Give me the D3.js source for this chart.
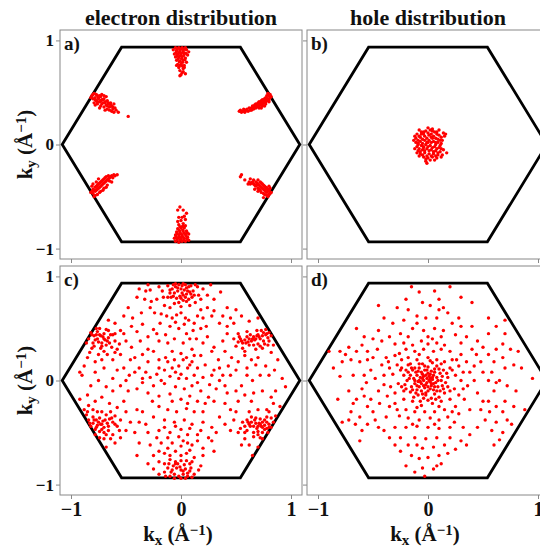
<!DOCTYPE html>
<html>
<head>
<meta charset="utf-8">
<script src="https://cdn.jsdelivr.net/npm/d3@7"></script>
<style>
  body { margin: 0; background: #fff; }
  text { font-family: "Liberation Serif", "Times New Roman", serif; font-weight: bold; fill: #111; }
</style>
</head>
<body>
<svg id="fig" width="540" height="547"></svg>
<script>
// Brillouin zone boundary (hexagon corners, 1/Angstrom)
const hexagon = [[1.08, 0], [0.54, 0.935], [-0.54, 0.935], [-1.08, 0], [-0.54, -0.935], [0.54, -0.935]];
const tickValues = [-1, 0, 1];
const titles = ["electron distribution", "hole distribution"];
const panelLabels = ["a)", "b)", "c)", "d)"];

// a) electrons, early time: pockets at the six M points
const electronA = [
  [-0.05,0.93],[-0.02,0.93],[0.01,0.93],[0.04,0.93],[-0.04,0.9],[-0.01,0.9],[0.02,0.9],[0.05,0.91],[-0.06,0.87],[-0.03,0.87],
  [0.0,0.87],[0.03,0.88],[0.06,0.86],[-0.05,0.84],[-0.02,0.84],[0.01,0.84],[0.04,0.83],[-0.04,0.81],[-0.01,0.8],[0.02,0.81],
  [0.05,0.79],[-0.03,0.77],[0.0,0.77],[0.03,0.76],[-0.02,0.74],[0.02,0.73],[-0.01,0.71],[0.01,0.69],[0.0,0.67],[0.07,0.89],[-0.07,0.91],
  [-0.035,0.915],[-0.005,0.915],[0.025,0.915],[-0.045,0.885],[-0.015,0.885],[0.015,0.885],[0.045,0.875],[-0.035,0.855],[-0.005,0.855],[0.025,0.855],
  [-0.025,0.825],[0.005,0.825],[0.035,0.815],[-0.015,0.795],[0.015,0.79],[0.01,0.755],[-0.01,0.76],[0.03,0.74],[-0.04,0.76],[0.02,0.7],[-0.01,0.66],[0.04,0.68],
  [-0.05,-0.93],[-0.02,-0.94],[0.01,-0.93],[0.04,-0.93],[0.07,-0.92],[-0.06,-0.9],[-0.03,-0.9],[0.0,-0.9],[0.03,-0.9],[0.06,-0.89],
  [-0.05,-0.87],[-0.02,-0.87],[0.01,-0.87],[0.04,-0.86],[0.07,-0.86],[-0.04,-0.84],[-0.01,-0.84],[0.02,-0.83],[0.05,-0.83],[-0.03,-0.81],
  [0.0,-0.8],[0.03,-0.8],[-0.02,-0.77],[0.02,-0.76],[0.0,-0.73],[0.04,-0.72],[-0.02,-0.7],[0.05,-0.66],[-0.03,-0.63],[0.03,-0.69],
  [-0.035,-0.915],[-0.005,-0.915],[0.025,-0.915],[0.055,-0.905],[-0.045,-0.885],[-0.015,-0.885],[0.015,-0.885],[0.045,-0.875],[-0.035,-0.855],[-0.005,-0.855],
  [0.025,-0.85],[0.055,-0.845],[-0.015,-0.825],[0.015,-0.82],[-0.01,-0.79],[0.015,-0.785],[0.04,-0.78],[-0.03,-0.74],[0.01,-0.7],[0.02,-0.63],[-0.01,-0.6],
  [-0.81,0.47],[-0.79,0.49],[-0.78,0.45],[-0.76,0.47],[-0.77,0.42],[-0.75,0.44],[-0.73,0.46],[-0.74,0.41],[-0.72,0.43],[-0.7,0.44],
  [-0.71,0.4],[-0.69,0.41],[-0.67,0.42],[-0.68,0.38],[-0.66,0.39],[-0.64,0.4],[-0.65,0.36],[-0.63,0.37],[-0.62,0.34],[-0.6,0.35],
  [-0.79,0.4],[-0.76,0.39],[-0.73,0.37],[-0.7,0.36],[-0.67,0.34],[-0.63,0.32],[-0.8,0.44],[-0.72,0.48],[-0.68,0.46],[-0.61,0.39],
  [-0.8,0.48],[-0.77,0.48],[-0.78,0.43],[-0.75,0.45],[-0.76,0.41],[-0.73,0.42],[-0.71,0.43],[-0.72,0.39],[-0.69,0.4],[-0.66,0.4],
  [-0.67,0.37],[-0.64,0.38],[-0.62,0.36],[-0.65,0.33],[-0.59,0.33],[-0.82,0.45],[-0.74,0.47],[-0.7,0.47],[-0.78,0.38],[-0.74,0.35],
  [-0.69,0.33],[-0.61,0.31],[-0.57,0.31],
  [-0.48,0.27],
  [0.82,0.46],[0.8,0.47],[0.79,0.44],[0.77,0.45],[0.78,0.42],[0.76,0.42],[0.74,0.43],[0.75,0.4],[0.73,0.4],[0.71,0.41],
  [0.72,0.38],[0.7,0.38],[0.68,0.39],[0.69,0.36],[0.67,0.36],[0.65,0.37],[0.66,0.34],[0.64,0.35],[0.62,0.35],[0.63,0.33],
  [0.61,0.32],[0.59,0.33],[0.57,0.34],[0.56,0.32],[0.58,0.31],[0.8,0.41],[0.77,0.39],[0.74,0.37],[0.71,0.35],[0.79,0.49],[0.54,0.33],
  [0.81,0.45],[0.8,0.43],[0.78,0.44],[0.76,0.44],[0.77,0.41],[0.75,0.42],[0.73,0.42],[0.74,0.39],[0.72,0.4],[0.7,0.4],
  [0.71,0.37],[0.69,0.38],[0.67,0.38],[0.68,0.35],[0.66,0.36],[0.64,0.33],[0.6,0.34],[0.58,0.32],[0.55,0.31],[0.53,0.32],
  [0.78,0.47],[0.81,0.48],[0.76,0.37],[0.73,0.35],
  [-0.82,-0.46],[-0.8,-0.47],[-0.8,-0.43],[-0.78,-0.45],[-0.78,-0.41],[-0.76,-0.43],[-0.76,-0.39],[-0.74,-0.41],[-0.74,-0.37],[-0.72,-0.39],
  [-0.72,-0.35],[-0.7,-0.37],[-0.7,-0.33],[-0.68,-0.35],[-0.66,-0.33],[-0.68,-0.31],[-0.64,-0.31],[-0.62,-0.32],[-0.65,-0.35],[-0.6,-0.3],
  [-0.79,-0.5],[-0.76,-0.48],[-0.73,-0.45],[-0.7,-0.42],[-0.67,-0.39],[-0.63,-0.36],[-0.81,-0.4],[-0.77,-0.36],[-0.58,-0.29],[-0.75,-0.33],
  [-0.81,-0.45],[-0.79,-0.44],[-0.77,-0.44],[-0.77,-0.4],[-0.75,-0.42],[-0.75,-0.38],[-0.73,-0.4],[-0.73,-0.36],[-0.71,-0.38],[-0.71,-0.34],
  [-0.69,-0.36],[-0.69,-0.32],[-0.67,-0.34],[-0.65,-0.32],[-0.63,-0.3],[-0.61,-0.29],[-0.78,-0.49],[-0.74,-0.46],[-0.71,-0.44],[-0.68,-0.41],
  [-0.8,-0.38],[-0.66,-0.3],
  [0.82,-0.46],[0.8,-0.48],[0.8,-0.44],[0.78,-0.46],[0.78,-0.42],[0.76,-0.44],[0.76,-0.4],[0.74,-0.42],[0.74,-0.38],[0.72,-0.4],
  [0.72,-0.36],[0.7,-0.38],[0.7,-0.42],[0.68,-0.4],[0.68,-0.36],[0.66,-0.38],[0.64,-0.37],[0.66,-0.34],[0.62,-0.36],[0.79,-0.5],
  [0.76,-0.48],[0.73,-0.46],[0.7,-0.45],[0.75,-0.51],[0.81,-0.42],[0.67,-0.43],[0.63,-0.33],[0.61,-0.38],[0.54,-0.31],[0.58,-0.34],
  [0.81,-0.47],[0.79,-0.45],[0.79,-0.43],[0.77,-0.45],[0.77,-0.41],[0.75,-0.43],[0.75,-0.39],[0.73,-0.41],[0.73,-0.37],[0.71,-0.39],
  [0.71,-0.43],[0.69,-0.39],[0.69,-0.37],[0.67,-0.39],[0.65,-0.36],[0.63,-0.38],[0.78,-0.49],[0.75,-0.47],[0.72,-0.44],[0.8,-0.4],
  [0.7,-0.34],[0.55,-0.29]
];

// b) holes, early time: compact blob at Gamma
const holeB = [
  [-0.1,0.1],[-0.06,0.12],[-0.02,0.13],[0.02,0.14],[0.06,0.12],[0.1,0.09],[-0.11,0.06],[-0.07,0.07],[-0.03,0.08],[0.01,0.09],
  [0.05,0.08],[0.09,0.05],[0.12,0.07],[-0.11,0.02],[-0.07,0.03],[-0.03,0.04],[0.01,0.04],[0.05,0.03],[0.09,0.02],[0.12,0.01],
  [-0.1,-0.02],[-0.06,-0.01],[-0.02,0.0],[0.02,-0.01],[0.06,-0.02],[0.1,-0.03],[-0.09,-0.06],[-0.05,-0.05],[-0.01,-0.04],[0.03,-0.05],
  [0.07,-0.06],[0.11,-0.07],[-0.07,-0.09],[-0.03,-0.08],[0.01,-0.09],[0.05,-0.09],[0.09,-0.1],[-0.04,-0.12],[0.0,-0.13],[0.04,-0.12],
  [0.08,-0.13],[-0.02,-0.16],[-0.08,-0.11],[0.15,0.08],[0.14,-0.05],[0.13,-0.1],[-0.12,-0.04],[-0.13,0.04],[0.0,0.16],[0.04,0.15],
  [-0.08,0.14],[0.16,0.1],[-0.01,-0.18],[0.12,-0.12],[-0.04,0.1],[0.03,0.1],[0.07,0.0],[-0.09,0.0],[0.0,0.02],[-0.04,-0.02],[0.04,0.06],
  [-0.08,0.08],[-0.04,0.12],[0.0,0.11],[0.04,0.13],[0.08,0.1],[-0.09,0.04],[-0.05,0.05],[-0.01,0.06],[0.03,0.07],[0.07,0.06],
  [0.11,0.04],[-0.09,0.01],[-0.05,0.01],[-0.01,0.02],[0.03,0.02],[0.07,0.02],[0.11,-0.01],[-0.08,-0.04],[-0.04,-0.03],[0.0,-0.02],
  [0.04,-0.03],[0.08,-0.04],[0.12,-0.04],[-0.07,-0.07],[-0.03,-0.06],[0.01,-0.06],[0.05,-0.07],[0.09,-0.08],[-0.05,-0.1],[-0.01,-0.11],
  [0.03,-0.11],[0.07,-0.11],[-0.02,-0.14],[0.02,-0.15],[0.06,-0.15],[-0.06,0.1],[0.08,0.12],[0.13,0.04],[-0.12,0.08],[0.17,-0.08],
  [-0.1,-0.08],[0.14,0.11],[0.1,0.14]
];

// c) electrons, later time: spread over the zone, still heavier near M
const electronC = [
  [-0.02,0.92],[0.01,0.91],[0.04,0.92],[-0.05,0.9],[0.07,0.9],[-0.08,0.88],[0.0,0.88],[0.03,0.87],[-0.03,0.86],[0.06,0.86],
  [-0.06,0.84],[0.01,0.84],[0.09,0.83],[-0.01,0.81],[0.04,0.8],[-0.04,0.79],[0.07,0.78],[-0.09,0.8],[0.02,0.77],[-0.02,0.75],
  [0.11,0.86],[-0.12,0.91],[0.13,0.92],[-0.1,0.84],[0.05,0.83],[0.0,0.79],[0.1,0.8],[-0.05,0.93],
  [-0.07,0.92],[0.02,0.93],[0.09,0.91],[-0.03,0.89],[0.05,0.89],[-0.1,0.87],[0.08,0.85],[-0.07,0.81],[0.02,0.82],[-0.12,0.8],
  [0.12,0.82],[0.05,0.76],[-0.06,0.74],[0.08,0.72],[-0.16,0.8],[0.16,0.82],[-0.1,0.7],[0.0,0.71],
  [-0.38,0.88],[-0.32,0.86],[-0.28,0.87],[-0.2,0.9],[-0.17,0.86],[0.15,0.9],[0.2,0.88],[0.24,0.82],[0.18,0.78],[0.13,0.75],
  [-0.28,0.7],[-0.22,0.78],[-0.27,0.76],[-0.15,0.72],[0.27,0.92],[-0.3,0.92],
  [-0.33,0.78],[-0.4,0.8],[0.3,0.78],[0.36,0.85],[-0.24,0.65],[0.24,0.7],[-0.18,0.64],[0.15,0.62],[-0.05,0.56],[0.03,0.54],
  [0.18,0.5],[-0.22,0.45],[0.08,0.4],[-0.12,0.36],[0.2,0.36],[-0.3,0.3],[0.28,0.28],[-0.48,0.7],[0.42,0.7],[-0.36,0.65],[0.38,0.62],
  [-0.13,0.62],[-0.08,0.6],[-0.04,0.63],[0.0,0.65],[0.04,0.6],[0.07,0.58],[0.12,0.55],[-0.19,0.55],[-0.1,0.52],[-0.02,0.5],
  [0.05,0.45],[-0.14,0.44],[0.11,0.48],[-0.06,0.4],[0.02,0.36],[0.14,0.4],[-0.2,0.38],[-0.25,0.49],[-0.3,0.42],[0.2,0.6],
  [0.28,0.62],[0.3,0.67],[0.18,0.68],[0.23,0.52],[-0.35,0.54],[-0.4,0.47],[-0.37,0.38],[-0.44,0.6],[-0.52,0.62],[-0.45,0.52],
  [0.35,0.55],[0.42,0.45],[0.38,0.38],[0.3,0.32],[0.24,0.42],[0.45,0.6],[0.5,0.68],[0.55,0.62],
  [-0.82,0.46],[-0.79,0.43],[-0.76,0.47],[-0.74,0.44],[-0.71,0.42],[-0.78,0.39],[-0.75,0.37],[-0.72,0.36],[-0.69,0.39],[-0.66,0.41],
  [-0.68,0.34],[-0.65,0.36],[-0.7,0.45],[-0.8,0.36],[-0.73,0.31],[-0.63,0.32],[-0.6,0.38],[-0.84,0.4],[-0.77,0.5],[-0.66,0.48],
  [-0.62,0.44],[-0.58,0.3],[-0.7,0.28],[-0.75,0.25],[-0.81,0.31],[-0.67,0.25],
  [-0.81,0.44],[-0.77,0.44],[-0.73,0.43],[-0.76,0.4],[-0.7,0.4],[-0.67,0.38],[-0.72,0.33],[-0.79,0.33],[-0.64,0.44],[-0.68,0.49],
  [-0.74,0.5],[-0.86,0.36],[-0.83,0.27],[-0.6,0.27],[-0.56,0.35],[-0.52,0.45],
  [-0.85,0.22],[-0.78,0.18],[-0.62,0.2],[-0.55,0.25],[-0.52,0.12],[-0.46,0.2],[-0.58,0.1],[-0.7,0.12],[-0.78,0.08],[-0.88,0.14],
  [-0.66,0.58],[-0.6,0.55],[-0.55,0.48],[-0.5,0.38],[-0.45,0.32],[-0.42,0.22],[-0.35,0.25],[-0.3,0.18],[-0.38,0.12],[-0.25,0.28],
  [-0.47,0.05],[-0.62,0.02],
  [-0.9,0.05],[-0.82,-0.05],[-0.75,0.0],[-0.55,-0.05],[-0.5,0.0],[-0.42,0.08],[-0.32,0.08],[-0.6,0.45],[-0.72,0.2],[-0.92,0.08],
  [0.8,0.46],[0.77,0.44],[0.79,0.41],[0.74,0.43],[0.72,0.4],[0.75,0.38],[0.7,0.44],[0.68,0.4],[0.66,0.42],[0.64,0.38],
  [0.62,0.4],[0.6,0.42],[0.58,0.39],[0.56,0.36],[0.54,0.4],[0.52,0.37],[0.7,0.35],[0.66,0.34],[0.73,0.48],[0.77,0.49],
  [0.82,0.43],[0.62,0.34],[0.5,0.33],[0.56,0.31],[0.68,0.3],[0.74,0.31],[0.79,0.34],[0.6,0.47],[0.52,0.45],
  [0.78,0.45],[0.75,0.46],[0.71,0.42],[0.69,0.43],[0.67,0.39],[0.65,0.4],[0.61,0.37],[0.59,0.36],[0.55,0.38],[0.53,0.42],
  [0.72,0.33],[0.76,0.35],[0.8,0.38],[0.84,0.34],[0.63,0.44],[0.69,0.48],[0.58,0.28],[0.48,0.4],
  [0.62,0.57],[0.7,0.6],[0.48,0.55],[0.42,0.52],[0.4,0.28],[0.46,0.22],[0.52,0.18],[0.58,0.24],[0.64,0.2],[0.7,0.22],
  [0.77,0.14],[0.85,0.1],[0.88,0.2],[0.82,0.27],[0.6,0.12],[0.5,0.1],[0.43,0.14],[0.34,0.2],[0.3,0.1],[0.38,0.05],
  [0.72,0.05],[0.92,0.02],[0.65,0.0],
  [0.8,0.05],[0.86,-0.1],[0.74,-0.1],[0.5,-0.1],[0.45,0.05],[0.6,0.05],[0.68,0.15],[0.82,-0.16],[0.35,0.12],[0.28,0.05],
  [-0.2,0.2],[-0.14,0.22],[-0.08,0.28],[0.0,0.26],[0.05,0.22],[0.1,0.3],[0.18,0.24],[0.22,0.15],[0.15,0.12],[0.08,0.15],
  [-0.02,0.14],[-0.08,0.12],[-0.15,0.1],[-0.22,0.06],[-0.28,0.03],[-0.1,0.04],[0.0,0.06],[0.05,0.02],[0.12,0.05],[0.2,0.03],
  [-0.35,-0.02],[-0.25,-0.05],[-0.15,-0.03],[-0.05,-0.06],[0.03,-0.08],[0.1,-0.05],[0.18,-0.1],[0.26,-0.04],[-0.4,-0.08],[-0.3,-0.12],
  [-0.2,-0.15],[-0.1,-0.13],[0.0,-0.18],[0.08,-0.15],[0.15,-0.2],[0.25,-0.16],[0.32,-0.08],[-0.12,0.18],[0.02,0.2],[-0.05,0.08],
  [0.1,0.18],[0.3,-0.2],[0.35,0.0],
  [-0.06,0.2],[0.06,0.12],[-0.18,0.0],[0.15,-0.02],[-0.08,-0.2],[0.06,-0.22],[0.22,-0.22],[-0.26,-0.2],[-0.35,0.02],[0.4,-0.05],
  [-0.02,0.02],[0.12,0.24],[-0.2,0.12],
  [-0.84,-0.38],[-0.8,-0.35],[-0.77,-0.38],[-0.74,-0.36],[-0.71,-0.39],[-0.8,-0.41],[-0.76,-0.43],[-0.73,-0.42],[-0.7,-0.45],[-0.67,-0.41],
  [-0.65,-0.37],[-0.62,-0.4],[-0.68,-0.33],[-0.64,-0.3],[-0.78,-0.47],[-0.74,-0.49],[-0.7,-0.5],[-0.82,-0.44],[-0.86,-0.33],[-0.6,-0.34],
  [-0.58,-0.44],[-0.66,-0.48],[-0.72,-0.3],[-0.76,-0.3],[-0.88,-0.28],[-0.84,-0.24],[-0.62,-0.52],[-0.7,-0.56],[-0.74,-0.55],[-0.55,-0.38],
  [-0.83,-0.41],[-0.79,-0.38],[-0.75,-0.4],[-0.72,-0.42],[-0.69,-0.38],[-0.66,-0.44],[-0.63,-0.36],[-0.77,-0.45],[-0.72,-0.47],[-0.68,-0.52],
  [-0.85,-0.3],[-0.8,-0.28],[-0.6,-0.42],[-0.56,-0.48],[-0.64,-0.56],[-0.78,-0.52],
  [-0.92,-0.18],[-0.85,-0.14],[-0.78,-0.2],[-0.72,-0.16],[-0.65,-0.22],[-0.58,-0.26],[-0.52,-0.2],[-0.5,-0.3],[-0.46,-0.4],[-0.5,-0.48],
  [-0.55,-0.55],[-0.6,-0.6],[-0.48,-0.1],[-0.62,-0.1],[-0.68,-0.06],[-0.4,-0.28],[-0.42,-0.5],[-0.38,-0.4],[-0.35,-0.3],[-0.68,-0.64],
  [0.82,-0.45],[0.8,-0.42],[0.78,-0.46],[0.76,-0.43],[0.74,-0.45],[0.72,-0.42],[0.7,-0.44],[0.68,-0.41],[0.66,-0.44],[0.64,-0.4],
  [0.62,-0.42],[0.6,-0.38],[0.76,-0.38],[0.72,-0.37],[0.68,-0.36],[0.79,-0.5],[0.74,-0.5],[0.7,-0.49],[0.66,-0.5],[0.84,-0.4],
  [0.58,-0.44],[0.56,-0.4],[0.64,-0.35],[0.78,-0.35],[0.82,-0.36],[0.6,-0.48],[0.72,-0.55],[0.74,-0.56],
  [0.8,-0.45],[0.76,-0.47],[0.73,-0.44],[0.71,-0.41],[0.69,-0.46],[0.67,-0.38],[0.63,-0.44],[0.61,-0.4],[0.78,-0.4],[0.74,-0.4],
  [0.7,-0.52],[0.66,-0.54],[0.58,-0.5],[0.54,-0.46],[0.86,-0.34],[0.8,-0.3],
  [0.9,-0.25],[0.84,-0.22],[0.78,-0.28],[0.7,-0.28],[0.64,-0.2],[0.58,-0.14],[0.52,-0.2],[0.5,-0.3],[0.45,-0.28],[0.4,-0.22],
  [0.42,-0.12],[0.55,-0.05],[0.48,-0.38],[0.45,-0.48],[0.52,-0.5],[0.58,-0.56],[0.55,-0.62],[0.62,-0.62],[0.4,-0.42],[0.35,-0.35],
  [0.66,-0.12],[0.62,-0.3],[0.95,-0.06],[0.7,-0.64],[0.65,-0.72],
  [-0.2,-0.25],[-0.12,-0.28],[-0.04,-0.3],[0.05,-0.27],[0.12,-0.3],[0.2,-0.3],[-0.25,-0.35],[-0.15,-0.38],[-0.06,-0.4],[0.03,-0.38],
  [0.1,-0.42],[0.2,-0.4],[0.28,-0.45],[-0.3,-0.5],[-0.2,-0.48],[-0.1,-0.5],[0.0,-0.47],[0.06,-0.52],[0.15,-0.52],[0.25,-0.55],
  [-0.28,-0.62],[-0.18,-0.6],[-0.08,-0.6],[0.02,-0.58],[0.1,-0.62],[0.2,-0.65],[-0.25,-0.72],[-0.15,-0.7],[-0.05,-0.68],[0.05,-0.7],
  [0.12,-0.74],[-0.3,-0.8],[-0.2,-0.78],[-0.1,-0.76],[0.0,-0.77],[0.08,-0.8],[0.18,-0.82],[-0.38,-0.6],[-0.4,-0.72],[0.3,-0.68],
  [-0.15,-0.45],[-0.05,-0.44],[0.08,-0.46],[0.18,-0.48],[-0.22,-0.55],[-0.12,-0.55],[-0.02,-0.54],[0.06,-0.6],[0.15,-0.58],[-0.12,-0.65],
  [0.0,-0.63],[0.08,-0.67],[-0.2,-0.68],[-0.1,-0.72],[0.0,-0.72],[0.1,-0.78],[-0.05,-0.8],[-0.15,-0.8],[0.2,-0.72],[0.28,-0.58],
  [-0.32,-0.42],[0.32,-0.5],
  [-0.08,-0.86],[-0.04,-0.84],[0.0,-0.86],[0.04,-0.85],[-0.06,-0.9],[-0.02,-0.92],[0.02,-0.9],[0.06,-0.92],[-0.1,-0.92],[-0.12,-0.84],
  [0.08,-0.87],[-0.03,-0.8],[0.03,-0.81],[-0.15,-0.88],[0.12,-0.9],[-0.2,-0.9],[0.16,-0.86],[-0.25,-0.85],[0.0,-0.94],[-0.07,-0.82],
  [-0.06,-0.94],[0.04,-0.94],[-0.09,-0.88],[0.02,-0.87],[0.09,-0.84],[-0.05,-0.78],[0.05,-0.77],[-0.14,-0.92],[0.1,-0.93],[-0.01,-0.83],
  [0.06,-0.89],[-0.11,-0.8]
];

// d) holes, later time: dense core at Gamma with a wide halo
const holeD = [
  [-0.04,0.0],[-0.01,0.02],[0.02,-0.01],[-0.07,0.03],[-0.06,-0.03],[-0.02,-0.04],[0.01,0.04],[0.04,0.01],[-0.09,-0.01],[-0.1,0.05],
  [-0.05,0.06],[0.0,0.07],[0.05,0.05],[0.07,-0.02],[0.03,-0.05],[-0.03,-0.07],[-0.08,-0.06],[-0.12,-0.03],[-0.13,0.02],[-0.11,0.08],
  [-0.03,0.1],[0.03,0.09],[0.08,0.03],[0.09,-0.06],[0.05,-0.09],[0.0,-0.1],[-0.06,-0.1],[-0.1,-0.09],[-0.15,-0.06],[-0.16,0.05],
  [-0.14,0.1],[-0.08,0.12],[0.0,0.13],[0.06,0.11],[0.11,0.07],[0.12,0.0],[0.11,-0.1],[0.06,-0.13],[-0.02,-0.14],[-0.09,-0.14],
  [-0.16,-0.11],[-0.19,0.0],[-0.18,0.08],[0.13,-0.05],[-0.04,0.04],[-0.01,-0.02],[0.02,0.02],[-0.07,-0.01],[0.05,-0.03],[-0.12,0.12],
  [0.08,0.14],[0.14,0.1],[0.15,-0.12],[-0.2,-0.08],[-0.04,-0.17],[0.03,-0.17],[-0.22,0.05],[-0.05,0.16],[0.18,0.03],[0.16,-0.02],
  [-0.05,0.02],[-0.02,0.05],[0.01,0.0],[0.03,-0.03],[-0.08,0.0],[-0.04,-0.05],[0.0,-0.06],[0.04,0.03],[-0.1,-0.05],[-0.09,0.09],
  [-0.06,0.08],[0.02,0.06],[0.06,0.08],[0.09,0.0],[0.06,-0.06],[0.02,-0.08],[-0.05,-0.13],[-0.12,0.0],[-0.14,-0.09],[-0.17,0.02],
  [-0.15,0.12],[-0.01,0.1],[0.1,0.11],[0.13,0.04],[0.14,-0.08],[0.08,-0.1],[-0.02,-0.12],[-0.11,-0.12],[-0.2,0.1],[0.04,0.17],
  [-0.08,0.16],[0.1,-0.16],[0.0,-0.19],[-0.13,-0.16],[0.17,0.07],[0.18,-0.06],[-0.21,-0.04],[-0.03,0.14],[0.07,-0.18],[0.12,0.16],
  [-0.24,-0.06],[-0.07,-0.2],[-0.18,0.15],[0.02,0.19],[0.2,0.12],[-0.24,0.12],
  [-0.28,0.15],[-0.24,0.2],[-0.18,0.22],[-0.1,0.2],[0.0,0.22],[0.08,0.2],[0.15,0.18],[0.22,0.2],[0.28,0.14],[0.25,0.05],
  [0.3,0.0],[0.24,-0.08],[0.28,-0.14],[0.2,-0.18],[0.12,-0.2],[0.04,-0.22],[-0.06,-0.24],[-0.14,-0.2],[-0.22,-0.18],[-0.3,-0.12],
  [-0.27,-0.03],[-0.32,0.06],[-0.35,0.12],[-0.3,0.24],[-0.2,0.3],[-0.12,0.28],[-0.04,0.3],[0.05,0.28],[0.12,0.3],[0.2,0.28],
  [0.3,0.25],[0.35,0.18],[0.38,0.08],[0.36,-0.05],[0.33,-0.18],[0.25,-0.25],[0.15,-0.28],[0.06,-0.3],[-0.03,-0.3],[-0.12,-0.3],
  [-0.2,-0.28],[-0.3,-0.22],[-0.37,-0.15],[-0.4,-0.04],[-0.4,0.05],[-0.42,0.15],[-0.38,0.22],[-0.25,0.1],[-0.22,-0.1],[0.2,-0.1],
  [0.22,0.1],[-0.16,0.16],[0.1,-0.25],[-0.08,0.25],[-0.35,-0.25],[-0.45,-0.1],[-0.48,0.02],[0.42,0.0],[0.45,-0.12],[0.42,0.14],
  [0.44,0.25],[-0.46,0.3],[0.0,0.35],[-0.06,0.38],[0.08,0.36],[0.02,-0.36],[-0.08,-0.38],[0.1,-0.38],[0.18,-0.35],[-0.18,-0.36],
  [-0.26,-0.34],[0.28,-0.32],[0.5,0.08],[-0.52,0.1],[-0.52,-0.18],
  [-0.26,0.26],[-0.14,0.34],[0.15,0.34],[0.26,0.2],[0.32,0.08],[0.32,-0.08],[0.22,-0.3],[-0.1,-0.26],[-0.28,-0.28],[-0.34,-0.06],
  [-0.36,0.18],[0.4,0.3],[0.5,-0.2],[-0.44,-0.22],[-0.5,0.22],[0.04,0.4],[-0.3,0.35],[0.3,0.36],[0.12,0.42],[-0.22,0.36],
  [0.38,-0.28],[-0.14,-0.42],[0.06,-0.42],[0.24,-0.4],[-0.38,-0.35],[0.55,0.0],[-0.56,-0.02],[0.48,0.18],
  [-0.15,0.9],[0.2,0.9],[0.06,0.86],[-0.2,0.78],[-0.28,0.7],[-0.05,0.75],[0.02,0.72],[0.1,0.78],[0.14,0.7],[0.18,0.65],
  [-0.1,0.62],[-0.02,0.6],[0.08,0.6],[-0.22,0.58],[0.22,0.55],[-0.32,0.55],[0.3,0.52],[-0.14,0.5],[-0.04,0.48],[0.06,0.5],
  [0.14,0.48],[-0.25,0.45],[0.25,0.44],[0.35,0.42],[-0.35,0.42],[0.0,0.42],[-0.18,0.42],
  [-0.08,0.85],[0.1,0.68],[-0.18,0.68],[0.28,0.6],[-0.4,0.6],[0.4,0.52],[-0.1,0.55],[0.55,0.6],
  [-0.8,0.28],[-0.72,0.32],[-0.65,0.28],[-0.6,0.34],[-0.55,0.28],[-0.7,0.2],[-0.62,0.18],[-0.78,0.18],[-0.86,0.12],[-0.55,0.2],
  [-0.58,0.05],[-0.68,0.05],[-0.8,0.04],[-0.72,-0.1],[-0.6,-0.08],[-0.65,-0.18],[-0.55,-0.25],[-0.7,-0.3],[-0.62,-0.35],[-0.5,-0.3],
  [-0.48,-0.38],[-0.55,-0.42],[-0.66,-0.42],[-0.72,-0.38],[-0.78,-0.4],[-0.6,-0.48],[-0.45,-0.45],[-0.5,0.4],[-0.45,0.48],[-0.65,0.5],[-0.42,0.38],
  [-0.58,0.42],[-0.75,0.25],[-0.68,-0.22],[-0.82,-0.18],[-0.58,-0.15],[-0.62,-0.58],
  [0.5,0.32],[0.55,0.25],[0.62,0.3],[0.68,0.35],[0.75,0.3],[0.82,0.28],[0.6,0.18],[0.7,0.12],[0.78,0.15],[0.58,0.08],
  [0.65,0.0],[0.6,-0.1],[0.72,-0.05],[0.55,-0.2],[0.62,-0.25],[0.7,-0.2],[0.78,-0.25],[0.48,-0.28],[0.52,-0.38],[0.62,-0.4],
  [0.72,-0.38],[0.76,-0.42],[0.58,-0.48],[0.68,-0.5],[0.65,-0.57],[0.45,-0.45],[0.55,0.45],[0.62,0.52],[0.7,0.45],[0.88,-0.28],
  [0.95,0.02],[0.85,0.12],[0.45,0.38],
  [0.68,0.22],[0.62,-0.02],[0.8,-0.1],[0.68,-0.3],[0.56,-0.3],[0.6,-0.62],
  [-0.3,-0.45],[-0.2,-0.45],[-0.1,-0.44],[0.0,-0.45],[0.1,-0.46],[0.2,-0.45],[0.32,-0.45],[-0.25,-0.55],[-0.12,-0.55],[-0.02,-0.56],
  [0.08,-0.55],[0.2,-0.55],[0.3,-0.58],[-0.18,-0.62],[-0.05,-0.65],[0.05,-0.64],[0.15,-0.62],[0.25,-0.66],[-0.15,-0.72],[-0.08,-0.75],
  [0.0,-0.74],[0.1,-0.72],[-0.2,-0.82],[-0.05,-0.84],[0.05,-0.85],[0.12,-0.8],[-0.03,-0.92],[-0.35,-0.55],[0.38,-0.52],
  [-0.4,-0.48],[-0.1,-0.62],[0.18,-0.7],[-0.25,-0.68],[0.08,-0.82],[-0.12,-0.88],[0.35,-0.62],[-0.3,-0.62],
  [-0.9,0.28],[0.7,0.58],[0.4,0.75],[0.3,0.8],[-0.45,0.72]
];

const svg = d3.select("#fig");
const panelW = 242, panelH = 229;

const panels = [
  { data: electronA, left: 60,  top: 30,  yLabels: true,  xLabels: false },
  { data: holeB,     left: 307, top: 30,  yLabels: false, xLabels: false },
  { data: electronC, left: 60,  top: 266, yLabels: true,  xLabels: true },
  { data: holeD,     left: 307, top: 266, yLabels: false, xLabels: true }
];

const fmt = d => d < 0 ? "\u2212" + Math.abs(d) : String(d);

panels.forEach((p, i) => {
  const x = d3.scaleLinear().domain([-1.1, 1.1]).range([p.left, p.left + panelW]);
  const y = d3.scaleLinear().domain([-1.1, 1.1]).range([p.top + panelH, p.top]);

  const g = svg.append("g");

  const clipId = "clip" + i;
  svg.append("clipPath").attr("id", clipId)
    .append("rect").attr("x", p.left).attr("y", p.top).attr("width", panelW).attr("height", panelH);

  // axes (ticks only, frame drawn separately)
  const yAxis = g.append("g")
    .attr("transform", `translate(${p.left},0)`)
    .call(d3.axisLeft(y).tickValues(tickValues).tickSize(4).tickPadding(2)
      .tickFormat(p.yLabels ? fmt : ""));
  yAxis.selectAll("text").style("font-size", "17px").style("fill", "#111");

  const xAxis = g.append("g")
    .attr("transform", `translate(0,${p.top + panelH})`)
    .call(d3.axisBottom(x).tickValues(tickValues).tickSize(4).tickPadding(3)
      .tickFormat(p.xLabels ? fmt : ""));
  xAxis.selectAll("text").style("font-size", "20px").style("fill", "#111");

  [yAxis, xAxis].forEach(a => {
    a.select(".domain").remove();
    a.selectAll("line").attr("stroke", "#888");
  });

  // frame
  g.append("rect")
    .attr("x", p.left).attr("y", p.top)
    .attr("width", panelW).attr("height", panelH)
    .attr("fill", "none").attr("stroke", "#888").attr("stroke-width", 1);

  const inner = g.append("g").attr("clip-path", `url(#${clipId})`);

  // zone boundary
  inner.append("path")
    .datum(hexagon)
    .attr("d", d3.line().x(d => x(d[0])).y(d => y(d[1])).curve(d3.curveLinearClosed))
    .attr("fill", "none").attr("stroke", "#000").attr("stroke-width", 2.8);

  // carriers
  inner.selectAll("circle")
    .data(p.data)
    .enter().append("circle")
    .attr("cx", d => x(d[0]))
    .attr("cy", d => y(d[1]))
    .attr("r", 1.7)
    .attr("fill", "#ff0000");

  // panel letter
  g.append("text")
    .attr("x", p.left + 4).attr("y", p.top + 20)
    .style("font-size", "19px")
    .text(panelLabels[i]);

  // x axis title under bottom panels
  if (p.xLabels) {
    const t = g.append("text")
      .attr("x", x(0) - 3).attr("y", 541)
      .attr("text-anchor", "middle")
      .style("font-size", "21px");
    t.append("tspan").text("k");
    t.append("tspan").attr("baseline-shift", "-25%").style("font-size", "15px").text("x");
    t.append("tspan").text(" (\u00C5");
    t.append("tspan").attr("baseline-shift", "40%").style("font-size", "15px").text("\u22121");
    t.append("tspan").text(")");
  }

  // y axis title next to left panels
  if (p.yLabels) {
    const t = g.append("text")
      .attr("transform", `translate(32,${y(0)}) rotate(-90)`)
      .attr("text-anchor", "middle")
      .style("font-size", "21px");
    t.append("tspan").text("k");
    t.append("tspan").attr("baseline-shift", "-25%").style("font-size", "15px").text("y");
    t.append("tspan").text(" (\u00C5");
    t.append("tspan").attr("baseline-shift", "40%").style("font-size", "15px").text("\u22121");
    t.append("tspan").text(")");
  }
});

// column titles
svg.selectAll("text.title")
  .data(titles)
  .enter().append("text")
  .attr("class", "title")
  .attr("x", (d, i) => panels[i].left + panelW / 2)
  .attr("y", 25)
  .attr("text-anchor", "middle")
  .style("font-size", "22px")
  .text(d => d);
</script>
</body>
</html>
